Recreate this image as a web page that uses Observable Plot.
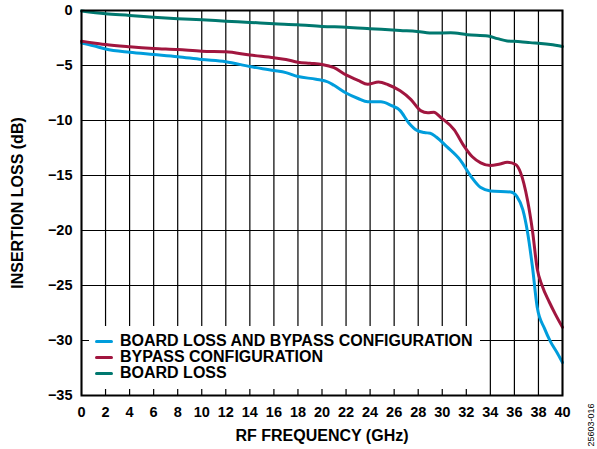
<!DOCTYPE html>
<html><head><meta charset="utf-8">
<script src="https://cdn.jsdelivr.net/npm/d3@7"></script>
<script src="https://cdn.jsdelivr.net/npm/@observablehq/plot@0.6"></script>
<style>
body{margin:0;background:#fff;}
#wrap{position:relative;width:597px;height:449px;font-family:"Liberation Sans",Arial,sans-serif;font-weight:bold;color:#000;}
#legend{position:absolute;left:89px;top:326px;width:391px;height:63px;background:#fff;}
.row{position:absolute;left:0;height:16px;display:flex;align-items:center;font-size:16px;white-space:nowrap;}
.sw{width:18px;height:3px;margin-left:6px;margin-right:7px;border-radius:1.5px;}
#code{position:absolute;left:591px;top:425px;font-size:9px;font-weight:normal;transform:translate(-50%,-50%) rotate(-90deg);white-space:nowrap;}
g[aria-label="x-axis label"] text, g[aria-label="y-axis label"] text{font-size:16px;}
</style>
</head><body>
<div id="wrap"><div id="chart"></div><div id="legend"></div><div id="code">25603-016</div></div>
<script>
const seriesNames = ["BOARD LOSS AND BYPASS CONFIGURATION", "BYPASS CONFIGURATION", "BOARD LOSS"];
const seriesColors = ["#009ddc", "#a1163f", "#00786f"];
const xTicks = [0,2,4,6,8,10,12,14,16,18,20,22,24,26,28,30,32,34,36,38,40];
const yTicks = [0,-5,-10,-15,-20,-25,-30,-35];

const freqCombined = [0,1,2,4,6,8,10,12,14,16,17,18,19.5,20.5,21,22,23,23.8,24.9,25.7,26.5,27.2,27.9,28.5,29,29.5,30.4,31.5,32.4,33.2,34,35.7,36.2,36.7,37.1,37.5,37.9,38.5,39,39.6,40];
const lossCombined = [-2.95,-3.2,-3.5,-3.8,-4.0,-4.2,-4.45,-4.65,-5.1,-5.45,-5.65,-6.0,-6.25,-6.5,-6.8,-7.5,-8.0,-8.3,-8.3,-8.6,-9.1,-10.2,-10.9,-11.1,-11.15,-11.5,-12.4,-13.6,-15.1,-16.1,-16.4,-16.5,-16.9,-18.1,-20.2,-23.3,-27.0,-28.9,-30.1,-31.2,-32.0];

const freqBypass = [0,1,2,4,6,8,10,12,14,16,17,18,19,20,21,22,23,23.8,24.7,25.5,26.5,27.4,28.2,28.8,29.3,29.9,31,31.8,32.5,33.2,34,34.8,35.4,36.1,36.5,37.1,37.5,37.9,38.3,38.9,39.4,40];
const lossBypass = [-2.8,-2.95,-3.1,-3.3,-3.45,-3.55,-3.7,-3.75,-4.05,-4.3,-4.45,-4.7,-4.8,-4.9,-5.2,-5.85,-6.35,-6.7,-6.5,-6.75,-7.3,-8.1,-9.1,-9.3,-9.25,-9.75,-10.85,-12.3,-13.3,-13.85,-14.1,-13.95,-13.8,-14.0,-14.7,-17.3,-20.0,-23.5,-25.0,-26.5,-27.6,-28.8];

const freqBoard = [0,2,4,6,8,10,12,14,16,18,20,22,24,26.5,27.9,29.3,30.7,32.1,33.8,34.6,35.4,36.5,37.3,38.2,39,40];
const lossBoard = [-0.05,-0.3,-0.45,-0.62,-0.75,-0.85,-0.97,-1.08,-1.2,-1.3,-1.45,-1.52,-1.65,-1.82,-1.9,-2.05,-2.02,-2.2,-2.32,-2.56,-2.77,-2.83,-2.92,-3.0,-3.1,-3.28];

const rows = [];
freqCombined.forEach((f,i)=>rows.push({series:seriesNames[0], f, db:lossCombined[i]}));
freqBypass.forEach((f,i)=>rows.push({series:seriesNames[1], f, db:lossBypass[i]}));
freqBoard.forEach((f,i)=>rows.push({series:seriesNames[2], f, db:lossBoard[i]}));

const chart = Plot.plot({
  width:597, height:449,
  marginLeft:81, marginRight:35, marginTop:10, marginBottom:54,
  style:{fontFamily:"Liberation Sans, Arial, sans-serif", fontSize:"14.5px", fontWeight:"bold", color:"#000", background:"#fff", overflow:"visible"},
  x:{domain:[0,40]},
  y:{domain:[-35,0]},
  color:{domain:seriesNames, range:seriesColors},
  marks:[
    Plot.gridX(xTicks,{stroke:"#000",strokeOpacity:1,strokeWidth:1.2}),
    Plot.gridY(yTicks,{stroke:"#000",strokeOpacity:1,strokeWidth:1.2}),
    Plot.line(rows,{x:"f",y:"db",z:"series",stroke:"series",strokeWidth:3,curve:"monotone-x"}),
    Plot.frame({stroke:"#000",strokeWidth:2}),
    Plot.axisX(xTicks,{tickSize:0,tickPadding:11,label:"RF FREQUENCY (GHz)",labelAnchor:"center",labelArrow:"none",labelOffset:45}),
    Plot.axisY(yTicks,{tickSize:0,tickPadding:9,label:"INSERTION LOSS (dB)",labelAnchor:"center",labelArrow:"none",labelOffset:70})
  ]
});
document.getElementById("chart").appendChild(chart);

const leg = document.getElementById("legend");
seriesNames.forEach((name,i)=>{
  const r = document.createElement("div");
  r.className = "row";
  r.style.top = (7 + i*16) + "px";
  const sw = document.createElement("span");
  sw.className = "sw";
  sw.style.background = seriesColors[i];
  const t = document.createElement("span");
  t.textContent = name;
  r.appendChild(sw); r.appendChild(t);
  leg.appendChild(r);
});
</script>
</body></html>
